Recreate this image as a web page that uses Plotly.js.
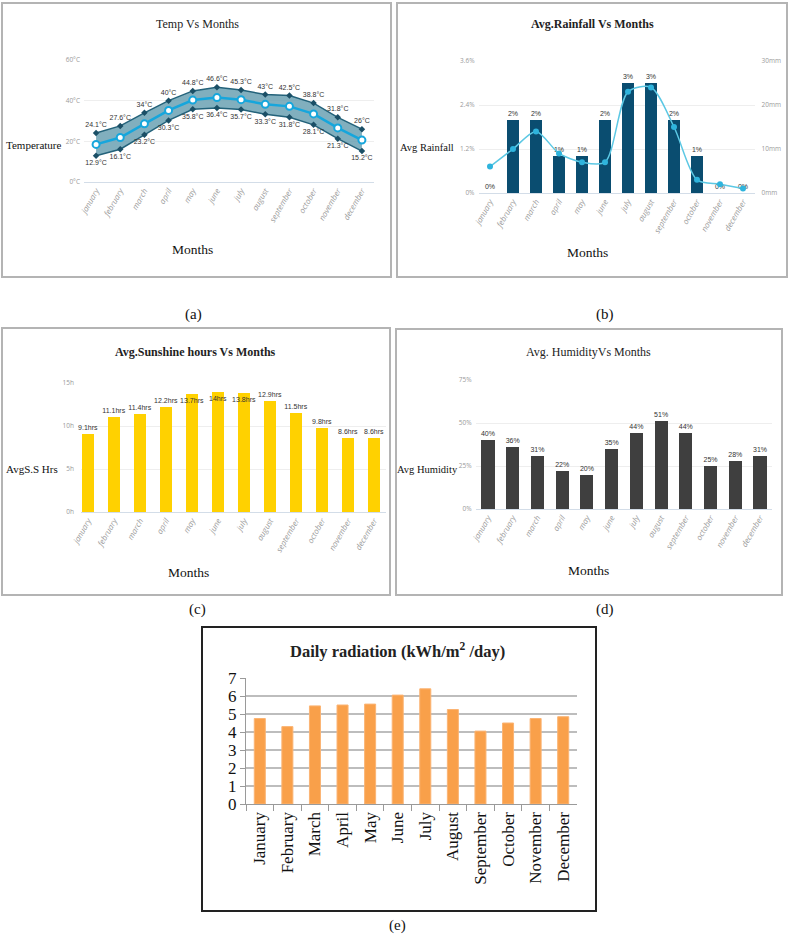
<!DOCTYPE html>
<html>
<head>
<meta charset="utf-8">
<script src="https://cdn.plot.ly/plotly-3.0.1.min.js"></script>
<style>html,body{margin:0;padding:0;background:#fff;}#chart{width:789px;height:938px;}</style>
</head>
<body>
<div id="chart"></div>
<script>
// ---------- data ----------
const monthsLower = ['january','february','march','april','may','june','july','august','september','october','november','december'];
const monthsCap = ['January','February','March','April','May','June','July','August','September','October','November','December'];
const tempMax = [24.1,27.6,34,40,44.8,46.6,45.3,43,42.5,38.8,31.8,26];
const tempMin = [12.9,16.1,23.2,30.3,35.8,36.4,35.7,33.3,31.8,28.1,21.3,15.2];
const tempAvg = [18.5,21.9,28.6,35.2,40.3,41.5,40.5,38.2,37.2,33.5,26.6,20.6];
const tempTicks = [0,20,40,60];
const tempTickText = ['0°C','20°C','40°C','60°C'];
const rainPct = [0,2,2,1,1,2,3,3,2,1,0,0];
const rainMm = [6,10,14,9,7,7,23,24,15,3,2,1];
const rainPctTicks = [0,1.2,2.4,3.6];
const rainPctTickText = ['0%','1.2%','2.4%','3.6%'];
const rainMmTicks = [0,10,20,30];
const rainMmTickText = ['0mm','10mm','20mm','30mm'];
const sunHrs = [9.1,11.1,11.4,12.2,13.7,14,13.8,12.9,11.5,9.8,8.6,8.6];
const sunTicks = [0,5,10,15];
const sunTickText = ['0h','5h','10h','15h'];
const humidity = [40,36,31,22,20,35,44,51,44,25,28,31];
const humTicks = [0,25,50,75];
const humTickText = ['0%','25%','50%','75%'];
const radiation = [4.75,4.3,5.45,5.5,5.55,6.05,6.4,5.25,4.05,4.5,4.75,4.85];

// ---------- helpers ----------
const W = 789, H = 938;
const fx = p => p / W;
const fy = p => 1 - p / H;
const serif = 'Liberation Serif, Times New Roman, serif';
const sans = 'Open Sans, Liberation Sans, sans-serif';
const tickGray = {family: sans, size: 6.5, color: '#9a9a9a'};
const monthTick = {family: sans, size: 8, color: '#9c9c9c', style: 'italic'};
const lblFont = {family: 'Liberation Sans Narrow, Liberation Sans, sans-serif', size: 7, color: '#333'};

function catX(domPx, extra) {
  return Object.assign({
    domain: [fx(domPx[0]), fx(domPx[1])],
    type: 'category',
    tickangle: -60,
    tickfont: monthTick,
    showgrid: false,
    showline: true,
    linecolor: '#d3dde8',
    linewidth: 1,
    ticks: '',
    zeroline: false,
    fixedrange: true
  }, extra || {});
}
function valY(topPx, botPx, extra) {
  return Object.assign({
    domain: [fy(botPx), fy(topPx)],
    tickfont: tickGray,
    showgrid: true,
    gridcolor: '#eeeeee',
    zeroline: false,
    showline: false,
    ticks: '',
    tickmode: 'array',
    fixedrange: true
  }, extra || {});
}

// ---------- traces ----------
const traces = [
  // (a) temperature band
  {type: 'scatter', x: monthsLower, y: tempMax, xaxis: 'x', yaxis: 'y', mode: 'lines+markers+text',
   line: {color: '#23627a', width: 1.5}, marker: {color: '#1b4f66', size: 5, symbol: 'diamond'},
   text: tempMax.map(v => v + '°C'), textposition: 'top center', textfont: lblFont, cliponaxis: false, hoverinfo: 'skip'},
  {type: 'scatter', x: monthsLower, y: tempMin, xaxis: 'x', yaxis: 'y', mode: 'lines+markers+text',
   fill: 'tonexty', fillcolor: 'rgba(98,155,174,0.8)',
   line: {color: '#23627a', width: 1.5}, marker: {color: '#1b4f66', size: 5, symbol: 'diamond'},
   text: tempMin.map(v => v + '°C'), textposition: 'bottom center', textfont: lblFont, cliponaxis: false, hoverinfo: 'skip'},
  {type: 'scatter', x: monthsLower, y: tempAvg, xaxis: 'x', yaxis: 'y', mode: 'lines+markers',
   line: {color: '#16a6dc', width: 2.5}, marker: {color: '#ffffff', size: 7, line: {color: '#16a6dc', width: 2}},
   cliponaxis: false, hoverinfo: 'skip'},

  // (b) rainfall
  {type: 'bar', x: monthsLower, y: rainPct, xaxis: 'x2', yaxis: 'y2', width: 0.48,
   marker: {color: '#0a4d70'}, text: rainPct.map(v => v + '%'), textposition: 'outside', textangle: 0,
   constraintext: 'none', textfont: lblFont, cliponaxis: false, hoverinfo: 'skip'},
  {type: 'scatter', x: monthsLower, y: rainMm, xaxis: 'x2', yaxis: 'y3', mode: 'lines+markers',
   line: {color: '#5cc8e4', width: 1.5, shape: 'spline', smoothing: 0.8}, marker: {color: '#2fb4dd', size: 6},
   cliponaxis: false, hoverinfo: 'skip'},

  // (c) sunshine
  {type: 'bar', x: monthsLower, y: sunHrs, xaxis: 'x3', yaxis: 'y4', width: 0.46,
   marker: {color: '#ffd100'}, text: sunHrs.map(v => v + 'hrs'),
   textposition: sunHrs.map(v => v >= 13.5 ? 'inside' : 'outside'), insidetextanchor: 'end', textangle: 0,
   constraintext: 'none', textfont: lblFont, insidetextfont: lblFont, outsidetextfont: lblFont,
   cliponaxis: false, hoverinfo: 'skip'},

  // (d) humidity
  {type: 'bar', x: monthsLower, y: humidity, xaxis: 'x4', yaxis: 'y5', width: 0.53,
   marker: {color: '#3f3f3f'}, text: humidity.map(v => v + '%'), textposition: 'outside', textangle: 0,
   constraintext: 'none', textfont: lblFont, cliponaxis: false, hoverinfo: 'skip'},

  // (e) radiation
  {type: 'bar', x: monthsCap, y: radiation, xaxis: 'x5', yaxis: 'y6', width: 0.4,
   marker: {color: '#f9a04a', line: {color: '#fbb474', width: 1}}, hoverinfo: 'skip'}
];

// ---------- annotations ----------
function ann(text, x, y, font, extra) {
  return Object.assign({text: text, x: fx(x), y: fy(y), xref: 'paper', yref: 'paper',
    showarrow: false, xanchor: 'center', yanchor: 'middle', font: font}, extra || {});
}
const titleFont = {family: serif, size: 12, color: '#222'};
const titleBold = {family: serif, size: 12, color: '#222', weight: 'bold'};
const axTitle = {family: serif, size: 11, color: '#111'};
const axTitleSm = {family: serif, size: 10.5, color: '#111'};
const monthsTitle = {family: serif, size: 13.5, color: '#111'};
const capFont = {family: serif, size: 15, color: '#111'};

const annotations = [
  ann('Temp Vs Months', 197, 24, titleFont),
  ann('Avg.Rainfall Vs Months', 592, 24, titleBold),
  ann('Avg.Sunshine hours Vs Months', 195, 352, titleBold),
  ann('Avg. HumidityVs Months', 588, 352, titleFont),
  ann('<b>Daily radiation (kWh/m<sup>2</sup> /day)</b>', 398, 650, {family: serif, size: 16.5, color: '#222'}),
  ann('Temperature', 34, 145, axTitle),
  ann('Avg Rainfall', 427, 147, axTitleSm),
  ann('AvgS.S Hrs', 32, 469, axTitle),
  ann('Avg Humidity', 427, 469, axTitleSm),
  ann('Months', 192, 250, monthsTitle),
  ann('Months', 587, 252, monthsTitle),
  ann('Months', 188, 572, monthsTitle),
  ann('Months', 588, 570, monthsTitle),
  ann('(a)', 193, 314, capFont),
  ann('(b)', 605, 314, capFont),
  ann('(c)', 197, 609, capFont),
  ann('(d)', 605, 609, capFont),
  ann('(e)', 397, 925, capFont)
];

function box(x0, y0, x1, y1, color, width) {
  return {type: 'rect', xref: 'paper', yref: 'paper', x0: fx(x0), x1: fx(x1), y0: fy(y1), y1: fy(y0),
    line: {color: color, width: width}, fillcolor: 'rgba(0,0,0,0)', layer: 'below'};
}

const layout = {
  width: W, height: H,
  margin: {l: 0, r: 0, t: 0, b: 0, pad: 0},
  paper_bgcolor: '#ffffff', plot_bgcolor: 'rgba(0,0,0,0)',
  showlegend: false,
  bargap: 0,
  font: {family: sans},
  // (a)
  xaxis: catX([84, 374], {anchor: 'y', range: [-0.5, 11.5]}),
  yaxis: valY(60, 182, {anchor: 'x', range: [0, 60], tickvals: tempTicks, ticktext: tempTickText, ticklabelstandoff: 3}),
  // (b)
  xaxis2: catX([478.5, 754.5], {anchor: 'y2', range: [-0.5, 11.5]}),
  yaxis2: valY(61, 193, {anchor: 'x2', range: [0, 3.6], tickvals: rainPctTicks, ticktext: rainPctTickText, ticklabelstandoff: 3}),
  yaxis3: valY(61, 193, {anchor: 'x2', overlaying: 'y2', side: 'right', range: [0, 30], tickvals: rainMmTicks, ticktext: rainMmTickText, showgrid: false, ticklabelstandoff: 6}),
  // (c)
  xaxis3: catX([81, 386], {anchor: 'y4', range: [-0.27, 11.46]}),
  yaxis4: valY(383, 512, {anchor: 'x3', range: [0, 15], tickvals: sunTicks, ticktext: sunTickText, ticklabelstandoff: 6}),
  // (d)
  xaxis4: catX([475.6, 772.4], {anchor: 'y5', range: [-0.5, 11.5]}),
  yaxis5: valY(380, 509, {anchor: 'x4', range: [0, 75], tickvals: humTicks, ticktext: humTickText, ticklabelstandoff: 3}),
  // (e)
  xaxis5: {domain: [fx(246), fx(577)], anchor: 'y6', type: 'category', range: [-0.5, 11.5],
    tickangle: -90, tickfont: {family: serif, size: 17, color: '#111'},
    showline: true, linecolor: '#9a9a9a', linewidth: 1.2, ticks: 'outside', tickson: 'boundaries',
    ticklen: 6, tickcolor: '#9a9a9a', showgrid: false, zeroline: false, fixedrange: true},
  yaxis6: {domain: [fy(804), fy(678)], anchor: 'x5', range: [0, 7], dtick: 1,
    tickfont: {family: serif, size: 17, color: '#111'},
    showline: true, linecolor: '#9a9a9a', linewidth: 1.2, ticks: 'outside', ticklen: 5, tickcolor: '#9a9a9a',
    showgrid: true, gridcolor: '#bdbdbd', gridwidth: 1.2, zeroline: false, fixedrange: true},
  annotations: annotations,
  shapes: [
    box(2, 3, 391, 277, '#b4b4b4', 2),
    box(397, 3, 787, 277, '#b4b4b4', 2),
    box(2, 328, 390, 595, '#b4b4b4', 2),
    box(396, 329, 782, 595, '#b4b4b4', 2),
    box(202, 627, 596, 911, '#222222', 2)
  ]
};

Plotly.newPlot('chart', traces, layout, {staticPlot: true, displayModeBar: false});
</script>
</body>
</html>
